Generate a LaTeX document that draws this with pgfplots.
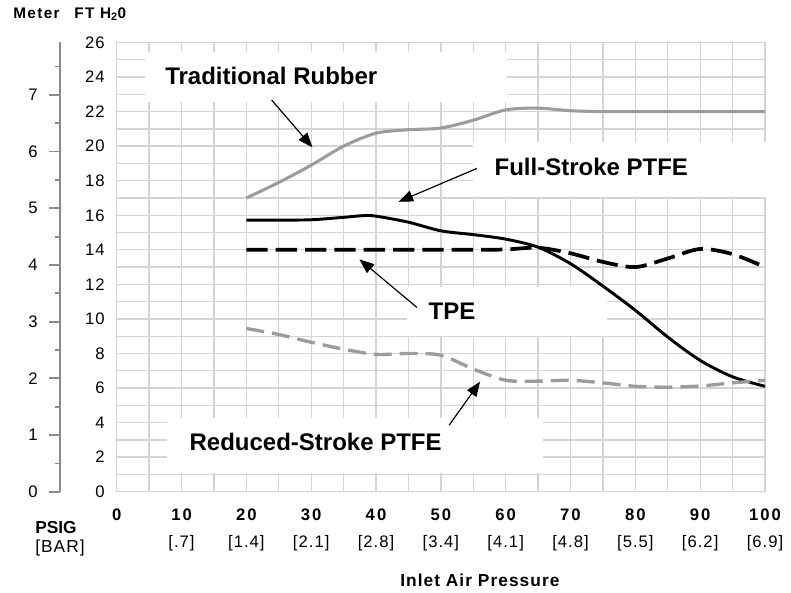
\documentclass[border=0pt]{standalone}
\usepackage{fontspec}
\setmainfont{Liberation Sans}
\newfontfamily\numfont[LetterSpace=12]{Liberation Sans}
\newfontfamily\semifont[LetterSpace=6]{Liberation Sans}
\newfontfamily\vwide[LetterSpace=9]{Liberation Sans}
\usepackage{pgfplots}
\pgfplotsset{compat=1.18}
\usetikzlibrary{arrows.meta}
\definecolor{gridgray}{HTML}{D4D4D4}
\definecolor{curvegray}{HTML}{9C9C9C}
\definecolor{axgray}{HTML}{8A8A8A}
\newcommand\xl[2]{{\numfont\bfseries #1}\\{\semifont\fontsize{12.5}{20.5}\selectfont #2}}
\tikzset{lbl/.style={anchor=base west, inner sep=0pt, font=\fontsize{18}{20}\selectfont\bfseries},
  ann/.style={line width=0.9pt, -{Triangle[length=11pt,width=8.5pt]}}}

\begin{document}
\begin{tikzpicture}
\begin{axis}[
  scale only axis, width=486.2pt, height=336.9pt,
  xmin=0, xmax=100, ymin=0, ymax=26,
  clip=false,
  axis line style={draw=none},
  major tick length=0pt, minor tick length=0pt,
  xtick={0,10,...,100}, minor xtick={5,15,...,95},
  ytick={0,2,...,26}, minor ytick={1,3,...,25},
  grid=both,
  major grid style={gridgray, line width=1pt},
  minor grid style={gridgray, line width=1pt},
  yticklabels={0,2,4,6,8,10,12,14,16,18,20,22,24,26},
  yticklabel style={font=\semifont\fontsize{12.5}{15}\selectfont, anchor=east, inner sep=0pt, xshift=-8.8pt},
  xticklabels={{\numfont\bfseries 0},\xl{10}{[.7]},\xl{20}{[1.4]},\xl{30}{[2.1]},\xl{40}{[2.8]},\xl{50}{[3.4]},\xl{60}{[4.1]},\xl{70}{[4.8]},\xl{80}{[5.5]},\xl{90}{[6.2]},\xl{100}{[6.9]}},
  xticklabel style={font=\fontsize{12.5}{20.5}\selectfont, align=center, anchor=north, inner sep=0pt, yshift=-12.5pt},
]
% white boxes behind the labels
\fill[white] (axis cs:4.37,22.57) rectangle (axis cs:60.16,25.47);
\fill[white] (axis cs:55.0,17.07) rectangle (axis cs:104,20.26);
\fill[white] (axis cs:44.73,9.01) rectangle (axis cs:75.58,11.87);
\fill[white] (axis cs:7.71,1.065) rectangle (axis cs:65.8,4.25);

% Traditional Rubber
\addplot[curvegray, line width=2.3pt, smooth] coordinates {
(20,17.0)(25,17.9)(30,18.9)(35,20.0)(40,20.75)(45,20.95)(50,21.05)(55,21.5)(60,22.1)(65,22.2)(70,22.05)(75,22.0)(80,22.0)(85,22.0)(90,22.0)(95,22.0)(100,22.0)};
% Full-Stroke PTFE
\addplot[black, line width=2.2pt, smooth] coordinates {
(20,15.72)(25,15.72)(30,15.74)(35,15.88)(38,15.98)(40,15.95)(45,15.6)(50,15.1)(55,14.88)(60,14.62)(65,14.15)(70,13.2)(75,11.9)(80,10.5)(85,8.95)(90,7.6)(95,6.65)(100,6.1)};
% TPE
\addplot[black, line width=2.8pt, smooth, dash pattern=on 16pt off 6pt] coordinates {
(20,14)(25,14)(30,14)(35,14)(40,14)(45,14)(50,14)(55,14)(60,14.02)(65,14.12)(70,13.8)(75,13.3)(80,13.0)(85,13.5)(90,14.05)(95,13.75)(100,13.0)};
% Reduced-Stroke PTFE
\addplot[curvegray, line width=2.5pt, smooth, dash pattern=on 13.5pt off 6pt] coordinates {
(20,9.45)(25,9.1)(30,8.65)(35,8.25)(40,7.95)(45,8.0)(50,7.9)(55,7.1)(60,6.45)(65,6.4)(70,6.45)(75,6.3)(80,6.1)(85,6.05)(90,6.12)(95,6.3)(100,6.45)};

% arrows
\draw[ann] (axis cs:23.9,22.67) -- (axis cs:30.2,19.93);
\draw[ann] (axis cs:55.55,18.71) -- (axis cs:43.46,16.78);
\draw[ann] (axis cs:46.3,10.67) -- (axis cs:37.44,13.45);
\draw[ann] (axis cs:51.3,3.86) -- (axis cs:56.06,6.37);

\coordinate (TL) at (axis cs:-18.0,28.46);
\coordinate (BR) at (axis cs:104.01,-5.805);
\end{axis}

% metre scale
\begin{axis}[
  at={(-42.5pt,0pt)}, anchor=south west,
  scale only axis, width=10pt, height=336.9pt,
  xmin=0, xmax=1, ymin=0, ymax=7.925,
  hide x axis, axis y line*=left,
  axis line style={axgray, line width=1.3pt},
  ytick={0,1,...,7}, minor ytick={0.5,1.5,...,7.5},
  yticklabels={0,1,2,3,4,5,6,7},
  tick align=outside, major tick length=8pt, minor tick length=3.8pt,
  every tick/.style={axgray, line width=1.3pt},
  yticklabel style={font=\semifont\fontsize{12.5}{15}\selectfont, anchor=east, inner sep=0pt, xshift=-8.5pt},
]
\addplot[draw=none] coordinates {(0,0)(1,1)};
\end{axis}

\begin{scope}[shift={(TL)}, x=0.75pt, y=-0.75pt]
\node[anchor=base west, inner sep=0pt, font=\vwide\bfseries\fontsize{11.5}{13}\selectfont] at (13,18.3) {Meter};
\node[anchor=base west, inner sep=0pt, font=\vwide\bfseries\fontsize{11.5}{13}\selectfont] at (74,18.3) {FT H\textsubscript{2}0};
\node[anchor=base west, inner sep=0pt, font=\bfseries\fontsize{13}{15}\selectfont] at (35,533) {PSIG};
\node[anchor=base west, inner sep=0pt, font=\semifont\fontsize{13}{15}\selectfont] at (35,552) {[BAR]};
\node[anchor=base west, inner sep=0pt, font=\semifont\bfseries\fontsize{13}{15}\selectfont] at (400,586) {Inlet Air Pressure};
\node[lbl] at (165,85) {Traditional Rubber};
\node[lbl] at (494.3,175) {Full-Stroke PTFE};
\node[lbl] at (428.3,319.3) {TPE};
\node[lbl] at (189.3,450.7) {Reduced-Stroke PTFE};
\end{scope}

\pgfresetboundingbox
\useasboundingbox (TL) rectangle (BR);
\end{tikzpicture}
\end{document}
